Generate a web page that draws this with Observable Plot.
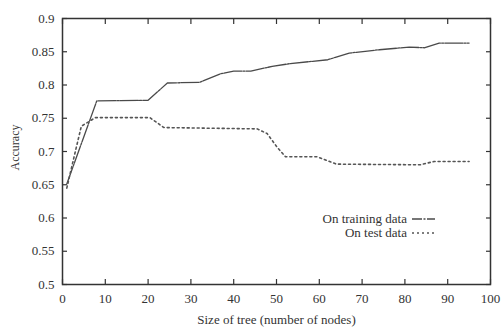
<!DOCTYPE html>
<html>
<head>
<meta charset="utf-8">
<script src="https://cdn.jsdelivr.net/npm/d3@7"></script>
<script src="https://cdn.jsdelivr.net/npm/@observablehq/plot@0.6"></script>
<style>
  html, body { margin: 0; padding: 0; background: #fff; }
  #wrap { position: relative; width: 501px; height: 329px; }
  #wrap svg, #wrap svg text { font-family: "Liberation Serif", "Times New Roman", "DejaVu Serif", serif !important; }
  #legend { position: absolute; left: 0; top: 0; width: 501px; height: 329px; pointer-events: none; }
</style>
</head>
<body>
<div id="wrap"></div>
<script>
// Data
const trainX = [1, 8, 20, 24.5, 32, 37, 40, 44, 49, 53, 62, 67, 74, 81, 84.5, 88, 95];
const trainY = [0.651, 0.776, 0.777, 0.803, 0.804, 0.817, 0.821, 0.821, 0.828, 0.832, 0.838, 0.848, 0.853, 0.857, 0.856, 0.863, 0.863];
const testX = [1, 3, 4.4, 7.7, 20.4, 23.7, 45.5, 47.8, 50.2, 52.1, 59.5, 64, 83.6, 86.8, 95];
const testY = [0.645, 0.700, 0.738, 0.751, 0.751, 0.736, 0.734, 0.727, 0.706, 0.692, 0.692, 0.681, 0.680, 0.685, 0.685];
const xTicks = [0, 10, 20, 30, 40, 50, 60, 70, 80, 90, 100];
const yTicks = [0.5, 0.55, 0.6, 0.65, 0.7, 0.75, 0.8, 0.85, 0.9];
const seriesNames = ["On training data", "On test data"];
const xLabel = "Size of tree (number of nodes)";
const yLabel = "Accuracy";

const train = trainX.map((x, i) => ({x, y: trainY[i]}));
const test = testX.map((x, i) => ({x, y: testY[i]}));

const FONT = "Liberation Serif, Times New Roman, DejaVu Serif, serif";
const INK = "#333";

const chart = Plot.plot({
  width: 501,
  height: 329,
  marginLeft: 62,
  marginRight: 11,
  marginTop: 18,
  marginBottom: 45,
  style: {fontFamily: FONT, fontSize: "13px", color: INK, background: "#fff"},
  x: {domain: [0, 100], ticks: xTicks, label: null},
  y: {domain: [0.5, 0.9], ticks: yTicks, label: null},
  marks: [
    // labels
    Plot.axisX({ticks: xTicks, tickSize: 0, tickPadding: 9, tickFormat: d => String(d), fill: INK, fontSize: 13}),
    Plot.axisY({ticks: yTicks, tickSize: 0, tickPadding: 8, tickFormat: d => String(d), fill: INK, fontSize: 13}),
    // inward ticks on all sides
    Plot.axisX({ticks: xTicks, tickSize: -5, tickFormat: () => "", stroke: INK, strokeWidth: 1.2}),
    Plot.axisX({anchor: "top", ticks: xTicks, tickSize: -5, tickFormat: () => "", stroke: INK, strokeWidth: 1.2, label: null}),
    Plot.axisY({ticks: yTicks, tickSize: -5, tickFormat: () => "", stroke: INK, strokeWidth: 1.2}),
    Plot.axisY({anchor: "right", ticks: yTicks, tickSize: -5, tickFormat: () => "", stroke: INK, strokeWidth: 1.2, label: null}),
    Plot.frame({stroke: INK, strokeWidth: 1.5}),
    Plot.line(train, {x: "x", y: "y", stroke: "#4a4a4a", strokeWidth: 1.3, strokeDasharray: "18,1.2,2,1.2"}),
    Plot.line(test, {x: "x", y: "y", stroke: "#555", strokeWidth: 1.6, strokeDasharray: "2,3"}),
    // axis titles
    Plot.text([xLabel], {frameAnchor: "bottom", textAnchor: "middle", dy: 39, dx: 0, text: d => d, fill: INK, fontSize: 13}),
    Plot.text([yLabel], {frameAnchor: "left", textAnchor: "middle", dx: -47, dy: -4, rotate: -90, text: d => d, fill: INK, fontSize: 12})
  ]
});

const wrap = document.getElementById("wrap");
wrap.appendChild(chart);

// Legend overlay (inside plot area, like gnuplot key)
const ns = "http://www.w3.org/2000/svg";
const leg = document.createElementNS(ns, "svg");
leg.setAttribute("id", "legend");
leg.setAttribute("width", 501);
leg.setAttribute("height", 329);
const styles = [
  {dash: "10,1.5,2,1.5", w: 1.3, c: "#4a4a4a"},
  {dash: "2,3", w: 1.6, c: "#555"}
];
seriesNames.forEach((name, i) => {
  const cy = 219 + i * 14;
  const t = document.createElementNS(ns, "text");
  t.setAttribute("x", 407);
  t.setAttribute("y", cy + 4);
  t.setAttribute("text-anchor", "end");
  t.setAttribute("font-size", 13);
  t.setAttribute("fill", INK);
  t.textContent = name;
  leg.appendChild(t);
  const l = document.createElementNS(ns, "line");
  l.setAttribute("x1", 412);
  l.setAttribute("x2", 435);
  l.setAttribute("y1", cy);
  l.setAttribute("y2", cy);
  l.setAttribute("stroke", styles[i].c);
  l.setAttribute("stroke-width", styles[i].w);
  l.setAttribute("stroke-dasharray", styles[i].dash);
  leg.appendChild(l);
});
wrap.appendChild(leg);
</script>
</body>
</html>
